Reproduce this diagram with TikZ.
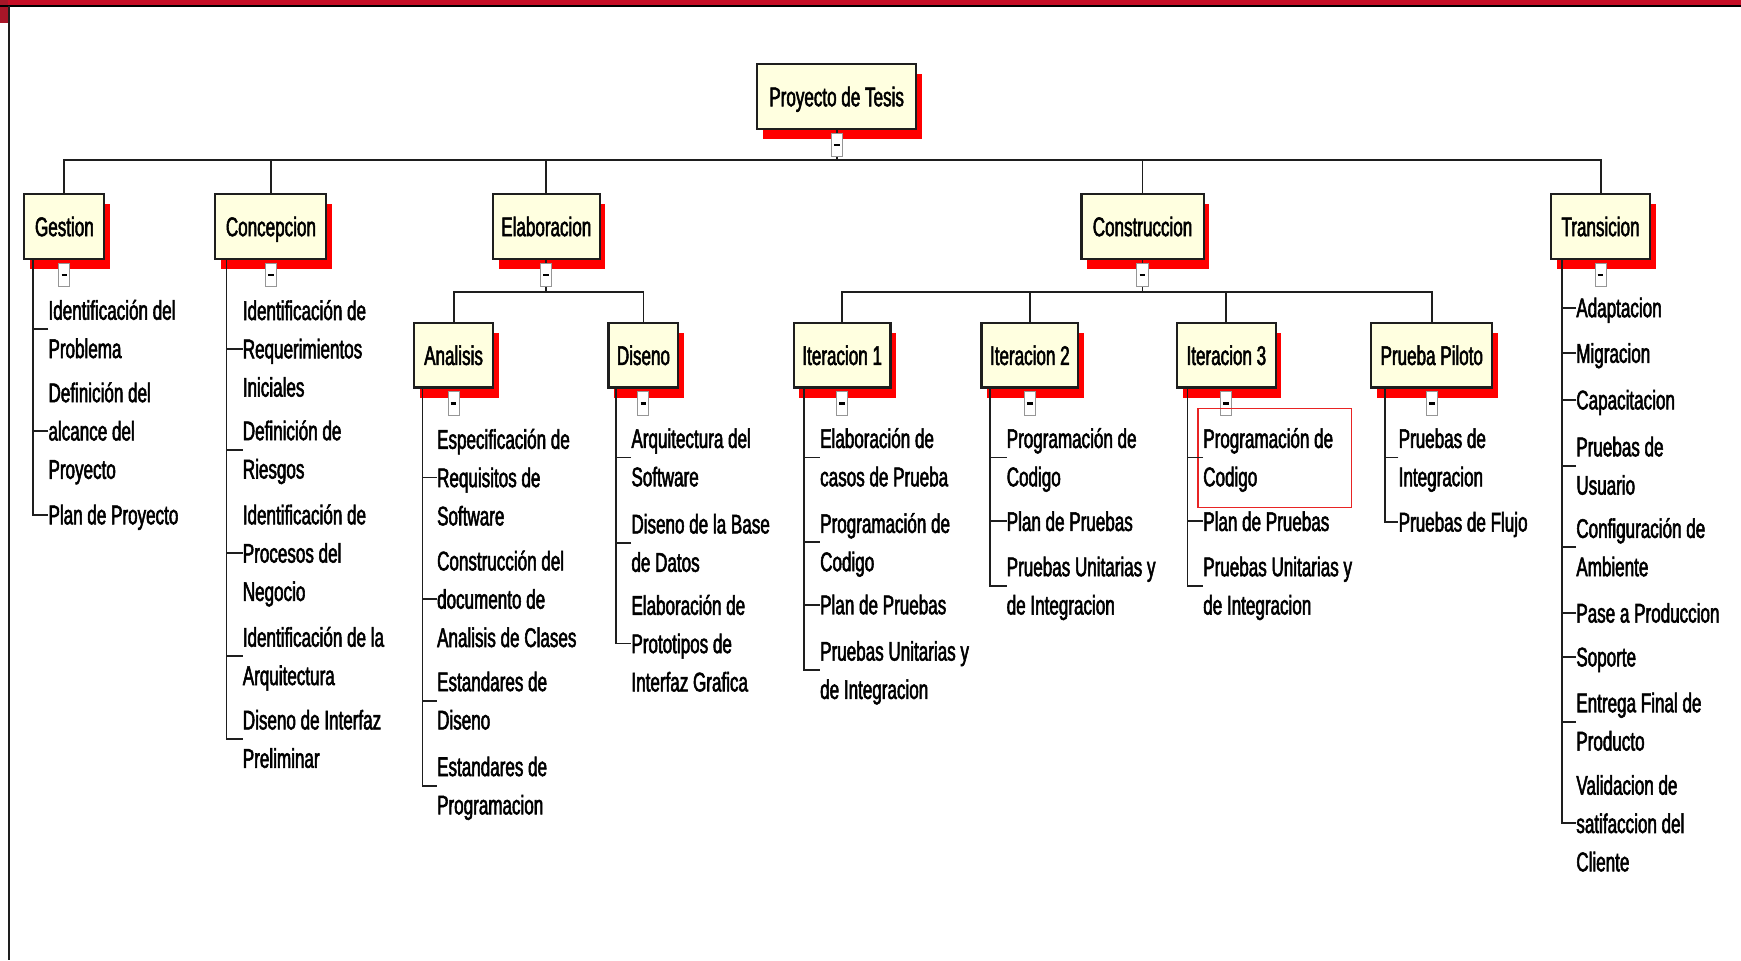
\documentclass[tikz,border=0pt]{standalone}
\usepackage{fontspec}
\setmainfont{Liberation Sans}[FakeStretch=0.632,FakeBold=2]
\usetikzlibrary{shadows}

\definecolor{framered}{RGB}{198,14,38}
\definecolor{cornerred}{RGB}{168,22,40}
\definecolor{boxfill}{RGB}{255,255,224}
\definecolor{shadowred}{RGB}{255,0,0}
\definecolor{inkgray}{RGB}{30,30,30}
\definecolor{togglegray}{RGB}{150,150,150}
\definecolor{marker}{RGB}{232,36,36}

% strut centred on the visual middle of a text line
\newcommand{\lstrut}{\rule[-8.55pt]{0pt}{34.5pt}}

\begin{document}
\begin{tikzpicture}[x=1pt,y=-1pt,
  every node/.style={font=\fontsize{24.3pt}{34.5pt}\selectfont, text=black},
  wbs/.style={draw=inkgray, line width=1.9pt, fill=boxfill, inner sep=0pt,
    minimum height=58pt, text height=25.95pt, text depth=8.55pt,
    drop shadow={shadow xshift=5pt, shadow yshift=-9pt, fill=shadowred, opacity=1}},
  toggle/.style={draw=togglegray, line width=0.9pt, fill=white, inner sep=0pt,
    minimum width=10pt, minimum height=21pt,
    path picture={\draw[line width=2.2pt, black]
      ([xshift=-2.6pt]path picture bounding box.center) --
      ([xshift=2.6pt]path picture bounding box.center);}},
  task/.style={anchor=west, align=left, inner sep=0pt},
  link/.style={draw=inkgray, line width=1.7pt},
  marked/.style={draw=marker, line width=1.2pt, inner sep=0pt},
]
\useasboundingbox (0,0) rectangle (1568,865);

% window frame
\fill[framered] (0,0) rectangle (1568,4.5);
\fill[cornerred] (0,0) rectangle (7.5,21);
\draw[black, line width=2pt] (0,5.3) -- (1568,5.3);
\draw[inkgray, line width=1.8pt] (8.4,5) -- (8.4,865);

% ---------- boxes ----------
\node[wbs, minimum width=143pt] (root) at (753.5,87) {Proyecto de Tesis};

\node[wbs, minimum width=72pt]  (gest) at (58,204)    {Gestion};
\node[wbs, minimum width=100pt] (conc) at (244,204)   {Concepcion};
\node[wbs, minimum width=96pt]  (elab) at (492,204)   {Elaboracion};
\node[wbs, minimum width=110pt] (cons) at (1029,204)  {Construccion};
\node[wbs, minimum width=89pt]  (tran) at (1441.5,204){Transicion};

\node[wbs, minimum width=71pt]  (anal) at (408.5,320)  {Analisis};
\node[wbs, minimum width=63pt]  (dise) at (579.5,320)  {Diseno};
\node[wbs, minimum width=87pt]  (it1)  at (758.5,320)  {Iteracion 1};
\node[wbs, minimum width=87pt]  (it2)  at (927.5,320)  {Iteracion 2};
\node[wbs, minimum width=89pt]  (it3)  at (1104.5,320) {Iteracion 3};
\node[wbs, minimum width=109pt] (pilo) at (1289.5,320) {Prueba Piloto};

% ---------- collapse toggles ----------
\node[toggle] (t-root) at (753.5,130.5) {};
\node[toggle] (t-gest) at (58,247.5) {};
\node[toggle] (t-conc) at (244,247.5) {};
\node[toggle] (t-elab) at (492,247.5) {};
\node[toggle] (t-cons) at (1029,247.5) {};
\node[toggle] (t-tran) at (1441.5,247.5) {};
\node[toggle] (t-anal) at (408.5,363.5) {};
\node[toggle] (t-dise) at (579.5,363.5) {};
\node[toggle] (t-it1)  at (758.5,363.5) {};
\node[toggle] (t-it2)  at (927.5,363.5) {};
\node[toggle] (t-it3)  at (1104.5,363.5) {};
\node[toggle] (t-pilo) at (1289.5,363.5) {};

% ---------- work packages ----------
% Gestion
\node[task] (g1) at (43.5,296.5) {\lstrut Identificación del\\\lstrut Problema};
\node[task] (g2) at (43.5,388)   {\lstrut Definición del\\\lstrut alcance del\\\lstrut Proyecto};
\node[task] (g3) at (43.5,463.5) {\lstrut Plan de Proyecto};
% Concepcion
\node[task] (c1) at (218.5,314)   {\lstrut Identificación de\\\lstrut Requerimientos\\\lstrut Iniciales};
\node[task] (c2) at (218.5,405)   {\lstrut Definición de\\\lstrut Riesgos};
\node[task] (c3) at (218.5,498)   {\lstrut Identificación de\\\lstrut Procesos del\\\lstrut Negocio};
\node[task] (c4) at (218.5,591)   {\lstrut Identificación de la\\\lstrut Arquitectura};
\node[task] (c5) at (218.5,665.5) {\lstrut Diseno de Interfaz\\\lstrut Preliminar};
% Analisis
\node[task] (a1) at (393.5,430)   {\lstrut Especificación de\\\lstrut Requisitos de\\\lstrut Software};
\node[task] (a2) at (393.5,539.5) {\lstrut Construcción del\\\lstrut documento de\\\lstrut Analisis de Clases};
\node[task] (a3) at (393.5,631)   {\lstrut Estandares de\\\lstrut Diseno};
\node[task] (a4) at (393.5,707.5) {\lstrut Estandares de\\\lstrut Programacion};
% Diseno
\node[task] (d1) at (568.5,412)   {\lstrut Arquitectura del\\\lstrut Software};
\node[task] (d2) at (568.5,489)   {\lstrut Diseno de la Base\\\lstrut de Datos};
\node[task] (d3) at (568.5,579.5) {\lstrut Elaboración de\\\lstrut Prototipos de\\\lstrut Interfaz Grafica};
% Iteracion 1
\node[task] (p1) at (738.5,412)   {\lstrut Elaboración de\\\lstrut casos de Prueba};
\node[task] (p2) at (738.5,488.5) {\lstrut Programación de\\\lstrut Codigo};
\node[task] (p3) at (738.5,544.5) {\lstrut Plan de Pruebas};
\node[task] (p4) at (738.5,603.5) {\lstrut Pruebas Unitarias y\\\lstrut de Integracion};
% Iteracion 2
\node[task] (q1) at (906.5,412)   {\lstrut Programación de\\\lstrut Codigo};
\node[task] (q2) at (906.5,469.5) {\lstrut Plan de Pruebas};
\node[task] (q3) at (906.5,527.5) {\lstrut Pruebas Unitarias y\\\lstrut de Integracion};
% Iteracion 3
\node[task] (s1) at (1083.5,412)   {\lstrut Programación de\\\lstrut Codigo};
\node[task] (s2) at (1083.5,469.5) {\lstrut Plan de Pruebas};
\node[task] (s3) at (1083.5,527.5) {\lstrut Pruebas Unitarias y\\\lstrut de Integracion};
\node[marked, minimum width=138pt, minimum height=89pt] (mark) at (1148,412.5) {};
% Prueba Piloto
\node[task] (u1) at (1259.5,412) {\lstrut Pruebas de\\\lstrut Integracion};
\node[task] (u2) at (1259.5,470) {\lstrut Pruebas de Flujo};
% Transicion
\node[task] (r1) at (1419.5,277)   {\lstrut Adaptacion};
\node[task] (r2) at (1419.5,318)   {\lstrut Migracion};
\node[task] (r3) at (1419.5,360)   {\lstrut Capacitacion};
\node[task] (r4) at (1419.5,419.5) {\lstrut Pruebas de\\\lstrut Usuario};
\node[task] (r5) at (1419.5,493)   {\lstrut Configuración de\\\lstrut Ambiente};
\node[task] (r6) at (1419.5,552)   {\lstrut Pase a Produccion};
\node[task] (r7) at (1419.5,591.5) {\lstrut Soporte};
\node[task] (r8) at (1419.5,650)   {\lstrut Entrega Final de\\\lstrut Producto};
\node[task] (r9) at (1419.5,741.5) {\lstrut Validacion de\\\lstrut satifaccion del\\\lstrut Cliente};

% ---------- tree connectors ----------
\coordinate (bus)    at (753.5,144);
\coordinate (bus-el) at (492,263);
\coordinate (bus-co) at (1029,263);

\draw[link] (root) -- (t-root);
\draw[link] (t-root) -- (bus);
\foreach \n in {gest,conc,elab,cons,tran} \draw[link] (bus) -| (\n);

\draw[link] (elab) -- (t-elab);
\draw[link] (t-elab) -- (bus-el);
\foreach \n in {anal,dise} \draw[link] (bus-el) -| (\n);

\draw[link] (cons) -- (t-cons);
\draw[link] (t-cons) -- (bus-co);
\foreach \n in {it1,it2,it3,pilo} \draw[link] (bus-co) -| (\n);

% spines of the work-package lists
\coordinate (sp-g) at (29.5,233);
\coordinate (sp-c) at (204,233);
\coordinate (sp-t) at (1406.5,233);
\coordinate (sp-a) at (380.5,349);
\coordinate (sp-d) at (554.5,349);
\coordinate (sp-p) at (724,349);
\coordinate (sp-q) at (892,349);
\coordinate (sp-s) at (1069.5,349);
\coordinate (sp-u) at (1247,349);

\draw[link] (sp-g) |- (g3.west);
\foreach \n in {g1,g2} \draw[link] (\n.west) -- (\n.west -| sp-g);
\draw[link] (sp-c) |- (c5.west);
\foreach \n in {c1,c2,c3,c4} \draw[link] (\n.west) -- (\n.west -| sp-c);
\draw[link] (sp-a) |- (a4.west);
\foreach \n in {a1,a2,a3} \draw[link] (\n.west) -- (\n.west -| sp-a);
\draw[link] (sp-d) |- (d3.west);
\foreach \n in {d1,d2} \draw[link] (\n.west) -- (\n.west -| sp-d);
\draw[link] (sp-p) |- (p4.west);
\foreach \n in {p1,p2,p3} \draw[link] (\n.west) -- (\n.west -| sp-p);
\draw[link] (sp-q) |- (q3.west);
\foreach \n in {q1,q2} \draw[link] (\n.west) -- (\n.west -| sp-q);
\draw[link] (sp-s) |- (s3.west);
\foreach \n in {s1,s2} \draw[link] (\n.west) -- (\n.west -| sp-s);
\draw[link] (sp-u) |- (u2.west);
\draw[link] (u1.west) -- (u1.west -| sp-u);
\draw[link] (sp-t) |- (r9.west);
\foreach \n in {r1,r2,r3,r4,r5,r6,r7,r8} \draw[link] (\n.west) -- (\n.west -| sp-t);

\end{tikzpicture}
\end{document}
